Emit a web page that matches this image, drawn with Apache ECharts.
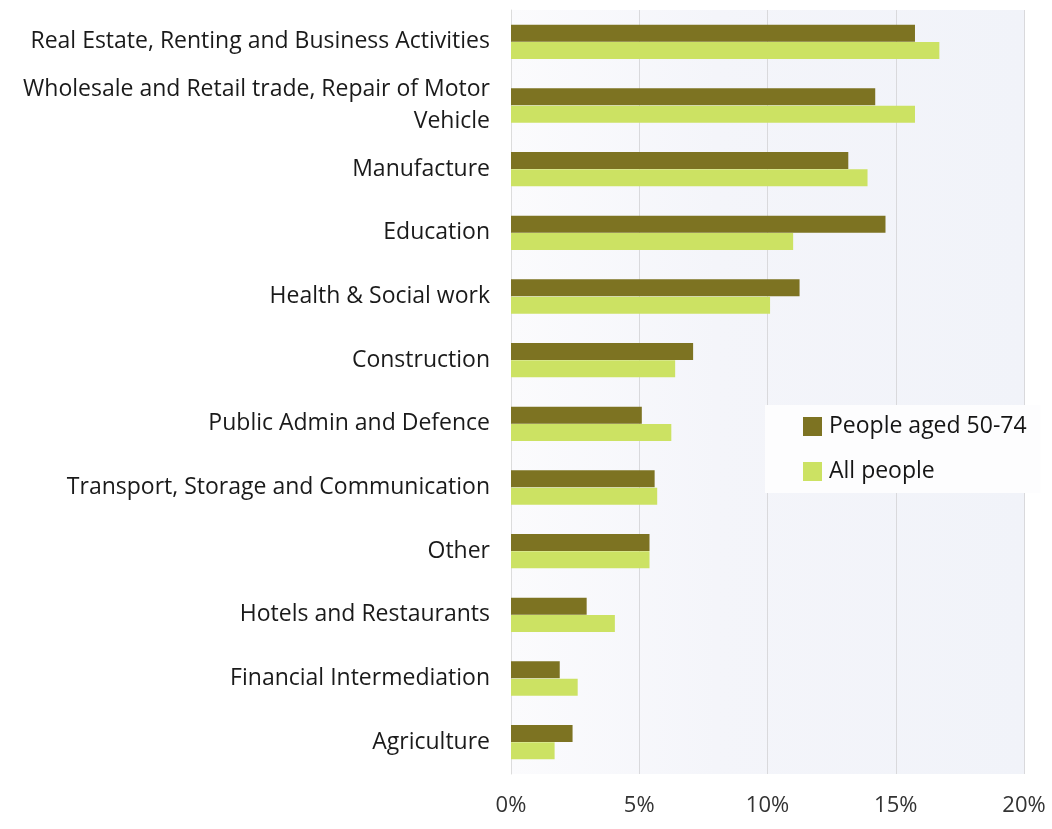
<!DOCTYPE html>
<html>
<head>
<meta charset="utf-8">
<script src="https://cdn.jsdelivr.net/npm/echarts@6/dist/echarts.min.js"></script>
<style>
  html, body { margin: 0; padding: 0; background: #ffffff; }
  #chart { width: 1052px; height: 829px; }
</style>
</head>
<body>
<div id="chart"></div>
<script>
// Industry sectors, top to bottom
const categories = [
  'Real Estate, Renting and Business Activities',
  'Wholesale and Retail trade, Repair of Motor\nVehicle',
  'Manufacture',
  'Education',
  'Health & Social work',
  'Construction',
  'Public Admin and Defence',
  'Transport, Storage and Communication',
  'Other',
  'Hotels and Restaurants',
  'Financial Intermediation',
  'Agriculture'
];

// Share of employment (%)
const aged50to74 = [15.75, 14.2, 13.15, 14.6, 11.25, 7.1, 5.1, 5.6, 5.4, 2.95, 1.9, 2.4];
const allPeople = [16.7, 15.75, 13.9, 11.0, 10.1, 6.4, 6.25, 5.7, 5.4, 4.05, 2.6, 1.7];

const seriesNames = ['People aged 50-74', 'All people'];
const xTicks = [0, 5, 10, 15, 20];

const FONT = '"Open Sans", "Noto Sans", sans-serif';
const chart = echarts.init(document.getElementById('chart'));

chart.setOption({
  backgroundColor: '#ffffff',
  animation: false,
  textStyle: { fontFamily: FONT },
  grid: {
    left: 511, right: 28, top: 10, bottom: 55,
    show: true,
    borderWidth: 0,
    backgroundColor: new echarts.graphic.LinearGradient(0, 0, 1, 0, [
      { offset: 0, color: '#fbfbfd' },
      { offset: 0.4, color: '#f4f5fa' },
      { offset: 1, color: '#f1f3f9' }
    ])
  },
  legend: {
    data: seriesNames,
    orient: 'vertical',
    left: 765,
    top: 405,
    itemWidth: 19,
    itemHeight: 19,
    itemGap: 22,
    icon: 'rect',
    textStyle: { fontSize: 23, color: '#151515', fontFamily: FONT, padding: [0, 0, 0, 2] },
    backgroundColor: '#fdfdfe',
    padding: [10, 14, 10, 38]
  },
  xAxis: {
    type: 'value',
    min: xTicks[0],
    max: xTicks[xTicks.length - 1],
    interval: 5,
    axisLine: { show: false },
    axisTick: { show: false },
    splitLine: { show: true, lineStyle: { color: '#d9d9dc', width: 1 } },
    axisLabel: {
      formatter: v => v + '%',
      fontSize: 22,
      color: '#333333',
      margin: 21,
      fontFamily: FONT
    }
  },
  yAxis: {
    type: 'category',
    data: categories,
    inverse: true,
    axisLine: { show: true, lineStyle: { color: '#dcdcdc' } },
    axisTick: { show: false },
    axisLabel: {
      fontSize: 23,
      color: '#1a1a1a',
      margin: 21,
      lineHeight: 32,
      align: 'right',
      fontFamily: FONT
    }
  },
  series: [
    {
      name: seriesNames[0],
      type: 'bar',
      data: aged50to74,
      barWidth: 17,
      barGap: '2%',
      itemStyle: { color: '#7d7322' }
    },
    {
      name: seriesNames[1],
      type: 'bar',
      data: allPeople,
      barWidth: 17,
      barGap: '2%',
      itemStyle: { color: '#cce263' }
    }
  ]
});
</script>
</body>
</html>
